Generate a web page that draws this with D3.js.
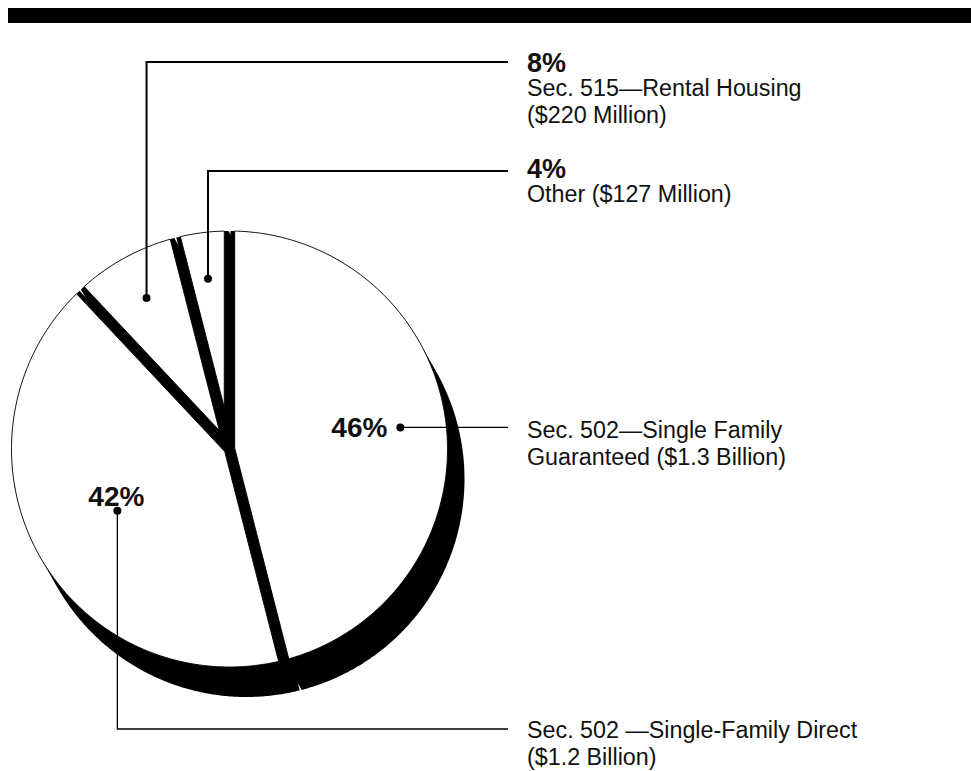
<!DOCTYPE html>
<html><head><meta charset="utf-8">
<script src="https://cdn.jsdelivr.net/npm/d3@7"></script>
<style>body{margin:0;background:#fff} svg{display:block}</style>
</head><body>
<script>
// ---- data ----
const categories = ["Sec. 502—Single Family Guaranteed", "Sec. 502 —Single-Family Direct", "Sec. 515—Rental Housing", "Other"];
const shares = [46, 42, 8, 4];
const pctLabels = ["46%", "42%", "8%", "4%"];
const labelLines = [
  ["Sec. 502—Single Family", "Guaranteed ($1.3 Billion)"],
  ["Sec. 502 —Single-Family Direct", "($1.2 Billion)"],
  ["Sec. 515—Rental Housing", "($220 Million)"],
  ["Other ($127 Million)"]
];

// ---- layout / style ----
const W = 971, H = 771;
const cx = 229.5, cy = 449, R = 218;
const depth = {x: 17, y: 30};
const faceGap = 10.5, wallGap = 2;
const dotFrac = [0.79, 0.587, 0.79, 0.787];
const leaderY = [null, 729, 62, 171];   // null = horizontal straight from dot
const leaderEndX = 508, textX = 527;
const fontFamily = "'Liberation Sans', Arial, Helvetica, sans-serif";

const svg = d3.select("body").append("svg").attr("width", W).attr("height", H);

svg.append("rect").attr("x", 8).attr("y", 8).attr("width", W - 8).attr("height", 15).attr("fill", "#000");

const arcs = d3.pie().sort(null).value(d => d)(shares);
const pt = (a, r) => [cx + r * Math.sin(a), cy - r * Math.cos(a)];

function slicePoly(d, gap) {
  const half = (d.endAngle - d.startAngle) / 2, mid = (d.startAngle + d.endAngle) / 2;
  const apex = pt(mid, (gap / 2) / Math.sin(half));
  const delta = Math.asin((gap / 2) / R);
  const a0 = d.startAngle + delta, a1 = d.endAngle - delta;
  const n = Math.max(4, Math.ceil((a1 - a0) / (Math.PI / 360)));
  const pts = [apex];
  for (let i = 0; i <= n; i++) pts.push(pt(a0 + (a1 - a0) * i / n, R));
  return pts;
}
const facePolys = arcs.map(d => slicePoly(d, faceGap));
const wallPolys = arcs.map(d => slicePoly(d, wallGap));
const line = d3.line();

// extrusion walls (side + rim), black
svg.append("g").selectAll("path").data(wallPolys).join("path")
  .attr("d", p => line(d3.polygonHull(p.concat(p.map(q => [q[0] + depth.x, q[1] + depth.y])))) + "Z")
  .attr("fill", "#000");

// top faces
svg.append("g").selectAll("path").data(facePolys).join("path")
  .attr("d", p => line(p) + "Z")
  .attr("fill", "#fff").attr("stroke", "#000").attr("stroke-width", 0.9).attr("stroke-linejoin", "round");

// leaders
const dots = arcs.map((d, i) => pt((d.startAngle + d.endAngle) / 2, dotFrac[i] * R));
const lg = svg.append("g").attr("fill", "none").attr("stroke", "#000");
dots.forEach((p, i) => {
  let pts;
  if (leaderY[i] == null) pts = [p, [leaderEndX, p[1]]];
  else pts = [p, [p[0], leaderY[i]], [leaderEndX, leaderY[i]]];
  lg.append("path").attr("d", line(pts)).attr("stroke-width", i >= 2 ? 2 : 1.3);
});
svg.append("g").selectAll("circle").data(dots).join("circle")
  .attr("cx", d => d[0]).attr("cy", d => d[1]).attr("r", 4).attr("fill", "#000");

// labels
const tg = svg.append("g").attr("font-family", fontFamily).attr("fill", "#111");
tg.append("text").attr("x", dots[0][0] - 13).attr("y", dots[0][1] + 10).attr("text-anchor", "end")
  .attr("font-weight", "bold").attr("font-size", 28).text(pctLabels[0]);
tg.append("text").attr("x", dots[1][0] - 1).attr("y", dots[1][1] - 5).attr("text-anchor", "middle")
  .attr("font-weight", "bold").attr("font-size", 28).text(pctLabels[1]);

const firstBase = [dots[0][1] + 11, leaderY[1] + 9];
[0, 1].forEach(i => {
  labelLines[i].forEach((t, k) => {
    tg.append("text").attr("x", textX).attr("y", firstBase[i] + k * 26.5).attr("font-size", 23.3).text(t);
  });
});
[2, 3].forEach(i => {
  const b = leaderY[i] + (i === 2 ? 10 : 7);
  tg.append("text").attr("x", textX).attr("y", b).attr("font-weight", "bold").attr("font-size", 27).text(pctLabels[i]);
  labelLines[i].forEach((t, k) => {
    tg.append("text").attr("x", textX).attr("y", b + 24 + k * 26.5).attr("font-size", 23.3).text(t);
  });
});
</script>
</body></html>
